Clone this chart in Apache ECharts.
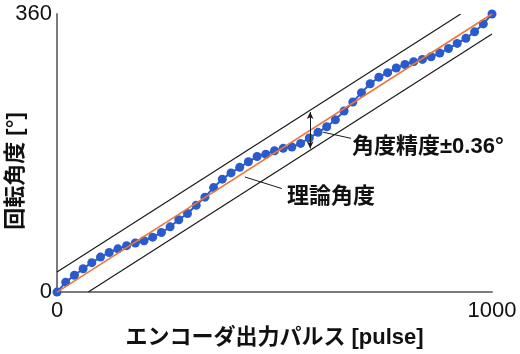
<!DOCTYPE html>
<html>
<head>
<meta charset="utf-8">
<script src="https://cdn.jsdelivr.net/npm/echarts@6/dist/echarts.min.js"></script>
<style>
html,body{margin:0;padding:0;background:#fff;}
#chart{width:520px;height:354px;}
</style>
</head>
<body>
<div id="chart"></div>
<script>
// エンコーダ出力パルス (x)
var pulses = [0,20,40,60,80,100,120,140,160,180,200,220,240,260,280,300,320,340,360,380,
	400,420,440,460,480,500,520,540,560,580,600,620,640,660,680,700,720,740,760,780,
	800,820,840,860,880,900,920,940,960,980,1000];
// 回転角度 実測 (y)
var measured = [0,12.9,21.8,30.3,38.1,45.3,51.3,56.0,60.1,63.6,66.4,71.1,77.1,84.5,93.6,101.8,112.3,122.9,135.3,146.2,
	154.3,161.5,168.7,175.5,178.4,183.0,186.1,187.9,192.5,199.5,206.8,214.0,223.0,234.5,246.0,258.2,269.7,278.2,284.1,290.1,
	294.6,298.3,301.2,304.6,309.4,315.3,321.9,328.5,336.9,347.2,360];
// 理論角度
var theory = [[0,0],[1000,360]];
// 精度範囲 上下
var bandUpper = [[0,26],[928,360]];
var bandLower = [[72,0],[1000,334]];
// 目盛
var xTicks = [0,1000];
var yTicks = [0,360];

var latin = "'Liberation Sans','Noto Sans CJK JP'";

var points = pulses.map(function(p,i){ return [p, measured[i]]; });

var myChart = echarts.init(document.getElementById('chart'));

var option = {
	animation: false,
	backgroundColor: '#fff',
	grid: { left: 57, right: 28, top: 14, bottom: 50 },
	xAxis: {
		type: 'value',
		min: xTicks[0], max: xTicks[1], interval: xTicks[1] - xTicks[0],
		name: 'エンコーダ出力パルス [pulse]',
		nameLocation: 'middle',
		nameGap: 21,
		nameTextStyle: { color: '#111', fontSize: 22, fontWeight: 'bold', fontFamily: latin },
		axisLine: { lineStyle: { color: '#7a7a80', width: 2 } },
		axisTick: { show: false },
		splitLine: { show: false },
		axisLabel: { color: '#111', fontSize: 22, fontFamily: latin, margin: 8,
			formatter: function(v){ return String(v); } }
	},
	yAxis: {
		type: 'value',
		min: yTicks[0], max: yTicks[1], interval: yTicks[1] - yTicks[0],
		axisLine: { show: true, lineStyle: { color: '#7a7a80', width: 2 } },
		axisTick: { show: false },
		splitLine: { show: false },
		axisLabel: { color: '#111', fontSize: 22, fontFamily: latin, margin: 5,
			formatter: function(v){ return String(v); } }
	},
	graphic: [
		{ type: 'text', x: 16, y: 171, rotation: Math.PI/2,
		  style: { text: '回転角度 [°]', fill: '#111', font: 'bold 22px ' + latin, align: 'center', verticalAlign: 'middle' } },
		{ type: 'text', x: 352, y: 147,
		  style: { text: '角度精度±0.36°', fill: '#111', font: 'bold 22px ' + latin, align: 'left', verticalAlign: 'middle' } },
		{ type: 'text', x: 287, y: 197,
		  style: { text: '理論角度', fill: '#111', font: 'bold 22px ' + latin, align: 'left', verticalAlign: 'middle' } }
	],
	series: [
		{
			name: '上限', type: 'line', data: bandUpper, symbol: 'none',
			lineStyle: { color: '#1a1a1a', width: 1.2 }, z: 2,
			markLine: {
				silent: true, symbol: ['arrow','arrow'], symbolSize: [5,7],
				label: { show: false },
				lineStyle: { color: '#1a1a1a', width: 1, type: 'solid' },
				data: [[{ coord: [582,233] }, { coord: [582,186] }]]
			}
		},
		{
			name: '下限', type: 'line', data: bandLower, symbol: 'none',
			lineStyle: { color: '#1a1a1a', width: 1.2 }, z: 2,
			markLine: {
				silent: true, symbol: 'none',
				label: { show: false },
				lineStyle: { color: '#1a1a1a', width: 1, type: 'solid' },
				data: [
					[{ coord: [612,207] }, { coord: [676,199] }],
					[{ coord: [432,149] }, { coord: [517,134] }]
				]
			}
		},
		{
			name: '実測', type: 'line', data: points,
			symbol: 'circle', symbolSize: 9,
			itemStyle: { color: '#2a5bcc' },
			lineStyle: { color: '#2a5bcc', width: 2 }, z: 3
		},
		{
			name: '理論角度', type: 'line', data: theory, symbol: 'none',
			lineStyle: { color: '#f07536', width: 1.6 }, z: 4
		}
	]
};

myChart.setOption(option);
</script>
</body>
</html>
